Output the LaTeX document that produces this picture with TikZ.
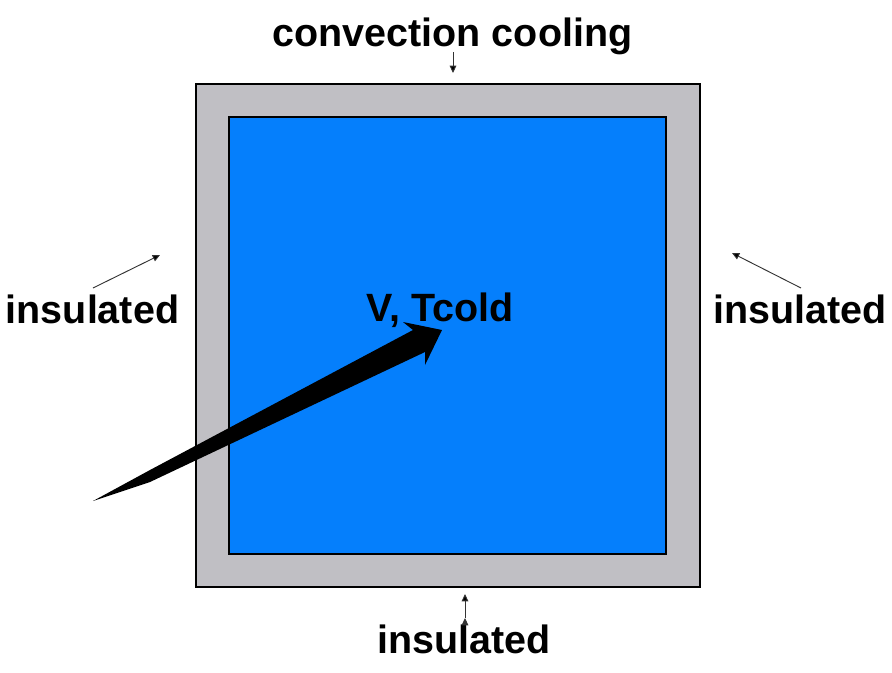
\documentclass[tikz,border=0pt]{standalone}
\usepackage{fontspec}
\setmainfont{Liberation Sans}
\usepackage{tikz}
\usetikzlibrary{arrows.meta, calc}
\definecolor{wallgray}{RGB}{192,191,196}
\definecolor{fluidblue}{RGB}{5,127,252}

\begin{document}
\begin{tikzpicture}[%
    x=0.75pt, y=-0.75pt,
    label/.style={
      font=\fontsize{29.6}{32}\selectfont\bfseries,
      anchor=base,
      inner sep=0
    },
    pointer/.style={
      draw=black!80,
      line width=0.7pt,
      -{Triangle[length=5.5pt,width=5pt]}
    }]
    \useasboundingbox (0,0) rectangle (892,672);

    \draw[fill=wallgray,line width=0.8pt] (196,84) rectangle (700,587);
    \draw[fill=fluidblue,line width=0.8pt] (229,117) rectangle (666,554);

    \node[label] at (452.5,46) (top) {convection cooling};
    \node[label] at (92.5,323) (left) {insulated};
    \node[label] at (800,323) (right) {insulated};
    \node[label] at (464,653) (bottom) {insulated};
    \node[label] at (440,321) (fluid) {V, Tcold};

    \coordinate (topA) at (453,52);
    \coordinate (topB) at (453,73);
    \coordinate (leftA) at (93,288);
    \coordinate (leftB) at (160,255);
    \coordinate (rightA) at (801,288);
    \coordinate (rightB) at (732,253);
    \coordinate (bottomA) at (465,618);
    \coordinate (bottomB) at (465,594);

    \path[pointer]
        (topA) edge (topB)
        (leftA) edge (leftB)
        (rightA) edge (rightB)
        (bottomA) edge (bottomB)
        ;

    \fill[black] (93,501) -- (150,482) -- (425,352) -- (425,365)
        -- (442,330) -- (403,322) -- (413,330) -- (150,470) -- cycle;
\end{tikzpicture}
\end{document}
